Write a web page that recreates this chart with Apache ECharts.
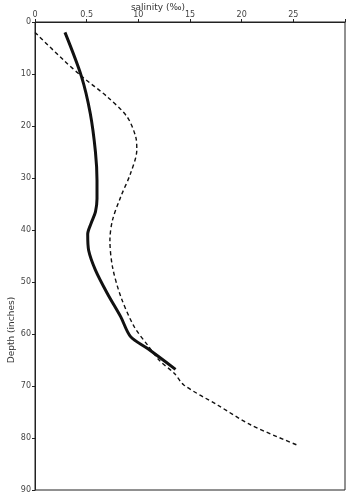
<!DOCTYPE html>
<html>
<head>
<meta charset="utf-8">
<script src="https://cdn.jsdelivr.net/npm/echarts@6/dist/echarts.min.js"></script>
<style>
  html, body { margin: 0; padding: 0; background: #fff; }
  #chart { width: 350px; height: 494px; }
</style>
</head>
<body>
<div id="chart"></div>
<script>
// salinity (‰) vs depth (inches)
const solidSalinity = [2.9, 4.5, 5.35, 5.85, 6.0, 6.0, 5.85, 5.45, 5.1, 5.2, 5.85, 7.0, 8.3, 9.25, 10.9, 13.6]
const solidDepth = [2, 10.5, 17.6, 25, 30.5, 34, 36.5, 38.6, 40.8, 44, 47.7, 52.2, 56.7, 60.5, 62.8, 66.8]

const dashedSalinity = [0, 2.75, 4.55, 7.0, 8.9, 9.75, 9.85, 9.25, 8.3, 7.5, 7.25, 7.5, 8.3, 9.6, 11.0, 12.0, 13.5, 14.4, 17.7, 20.9, 25.3]
const dashedDepth = [2, 7.3, 10.5, 14.4, 18.2, 22.1, 24.6, 29.1, 33.6, 38.1, 42, 47.1, 52.8, 58.6, 62.4, 65, 67.6, 69.8, 73.7, 77.5, 81.3]

const xTickLabels = ['0', '0.5', '10', '15', '20', '25', '']
const yTickLabels = ['0', '10', '20', '30', '40', '50', '60', '70', '80', '90']

const chart = echarts.init(document.getElementById('chart'))

const labelFont = {
  color: '#444',
  fontSize: 8,
  fontFamily: 'DejaVu Sans'
}

const option = {
  backgroundColor: '#fff',
  animation: false,
  grid: {
    left: 35,
    top: 22,
    right: 5,
    bottom: 4,
    show: true,
    borderColor: '#222',
    borderWidth: 1
  },
  xAxis: {
    type: 'value',
    position: 'top',
    min: 0,
    max: 30,
    interval: 5,
    axisLine: { show: true, lineStyle: { color: '#222', width: 1 } },
    axisTick: { show: true, length: 3, lineStyle: { color: '#222' } },
    splitLine: { show: false },
    axisLabel: {
      ...labelFont,
      margin: 3,
      formatter: (v) => xTickLabels[Math.round(v / 5)]
    }
  },
  yAxis: {
    type: 'value',
    inverse: true,
    min: 0,
    max: 90,
    interval: 10,
    axisLine: { show: true, lineStyle: { color: '#222', width: 1 } },
    axisTick: { show: true, length: 3, lineStyle: { color: '#222' } },
    splitLine: { show: false },
    axisLabel: {
      ...labelFont,
      margin: 4,
      formatter: (v) => yTickLabels[Math.round(v / 10)]
    }
  },
  graphic: [
    {
      type: 'text',
      x: 158,
      y: 8,
      style: {
        text: 'salinity (‰)',
        fill: '#333',
        fontSize: 9,
        fontFamily: 'DejaVu Sans',
        textAlign: 'center',
        textVerticalAlign: 'middle'
      }
    },
    {
      type: 'text',
      x: 12,
      y: 330,
      rotation: Math.PI / 2,
      style: {
        text: 'Depth (inches)',
        fill: '#333',
        fontSize: 9,
        fontFamily: 'DejaVu Sans',
        textAlign: 'center',
        textVerticalAlign: 'middle'
      }
    }
  ],
  series: [
    {
      name: 'solid',
      type: 'line',
      smooth: 0.3,
      symbol: 'none',
      data: solidSalinity.map((s, i) => [s, solidDepth[i]]),
      lineStyle: { color: '#111', width: 3 }
    },
    {
      name: 'dashed',
      type: 'line',
      smooth: 0.3,
      symbol: 'none',
      data: dashedSalinity.map((s, i) => [s, dashedDepth[i]]),
      lineStyle: { color: '#111', width: 1.4, type: [4, 3] }
    }
  ]
}

chart.setOption(option)
</script>
</body>
</html>
